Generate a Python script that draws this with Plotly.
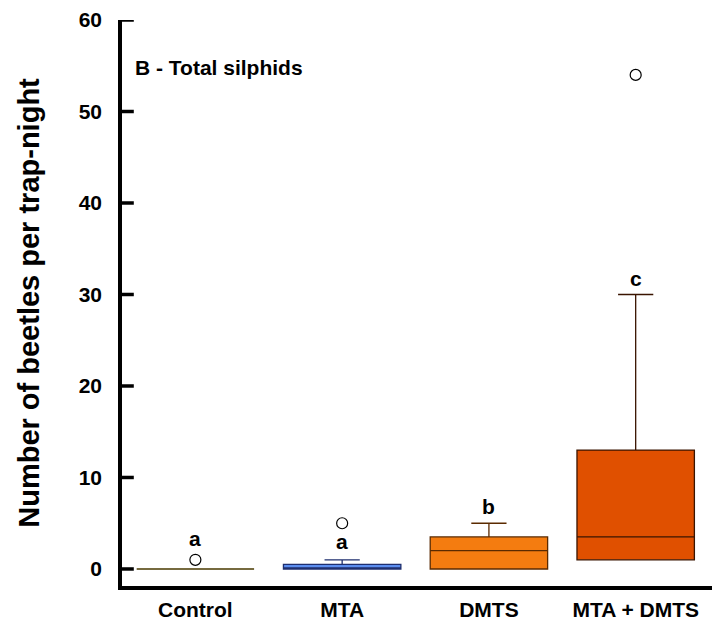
import plotly.graph_objects as go

# Treatment groups and their box-plot summaries (beetles per trap-night)
groups = ["Control", "MTA", "DMTS", "MTA + DMTS"]
q1 = [0, 0, 0, 1]
median = [0, 0, 2, 3.5]
q3 = [0, 0.5, 3.5, 13]
lower_fence = [0, 0, 0, 1]
upper_fence = [0, 1, 5, 30]
outlier_groups = ["Control", "MTA", "MTA + DMTS"]
outlier_values = [1, 5, 54]
letters = ["a", "a", "b", "c"]
letter_y = [3.3, 3.0, 6.8, 31.8]
y_ticks = [0, 10, 20, 30, 40, 50, 60]

fills = ["#8a7a20", "#5b8def", "#f47c10", "#e05000"]
edges = ["#4a3a00", "#1f2f6f", "#5a2a00", "#3a1400"]

FONT = "Liberation Sans, Arial, Helvetica"

fig = go.Figure()
for i, g in enumerate(groups):
    fig.add_trace(go.Box(
        x=[g], q1=[q1[i]], median=[median[i]], q3=[q3[i]],
        lowerfence=[lower_fence[i]], upperfence=[upper_fence[i]],
        fillcolor=fills[i], line=dict(color=edges[i], width=1.3),
        width=0.8, whiskerwidth=0.3, boxpoints=False, showlegend=False,
    ))

fig.add_trace(go.Scatter(
    x=outlier_groups, y=outlier_values, mode="markers",
    marker=dict(symbol="circle-open", size=11, color="black", line=dict(width=1.2)),
    showlegend=False,
))

for g, t, yv in zip(groups, letters, letter_y):
    fig.add_annotation(x=g, y=yv, text=f"<b>{t}</b>", showarrow=False,
                       font=dict(size=21, color="black", family=FONT))

fig.add_annotation(x=0.018, xref="paper", y=54.8, yref="y", xanchor="left",
                   text="<b>B - Total silphids</b>", showarrow=False,
                   font=dict(size=21, color="black", family=FONT))

# y-axis title placed as a rotated annotation left of the tick labels
fig.add_annotation(x=-0.158, xref="paper", y=0.5, yref="paper", xanchor="center",
                   yanchor="middle", textangle=-90, showarrow=False,
                   text="<b>Number of beetles per trap-night</b>",
                   font=dict(size=29, color="black", family=FONT))

# inward-pointing tick marks on the y axis
for v in y_ticks:
    fig.add_shape(type="line", xref="paper", yref="y", x0=0.0, x1=0.02, y0=v, y1=v,
                  line=dict(color="black", width=3.5), layer="above")

fig.update_layout(
    width=722, height=621,
    margin=dict(l=122, r=10, t=20, b=35),
    plot_bgcolor="white", paper_bgcolor="white",
    font=dict(family=FONT, color="black", size=21),
    xaxis=dict(
        type="category", range=[-0.5, 3.52], showgrid=False, zeroline=False,
        automargin=False,
        showline=True, linecolor="black", linewidth=3.5, ticks="",
        tickfont=dict(size=21), ticklabelstandoff=2,
        tickvals=groups, ticktext=[f"<b>{g}</b>" for g in groups],
    ),
    yaxis=dict(
        range=[-1.86, 60], showgrid=False, zeroline=False,
        automargin=False,
        showline=True, linecolor="black", linewidth=3.5, ticks="",
        ticklabelstandoff=12,
        tickvals=y_ticks,
        ticktext=[f"<b>{v}</b>" for v in y_ticks],
        tickfont=dict(size=21),
    ),
)

fig.write_html("out.html")
